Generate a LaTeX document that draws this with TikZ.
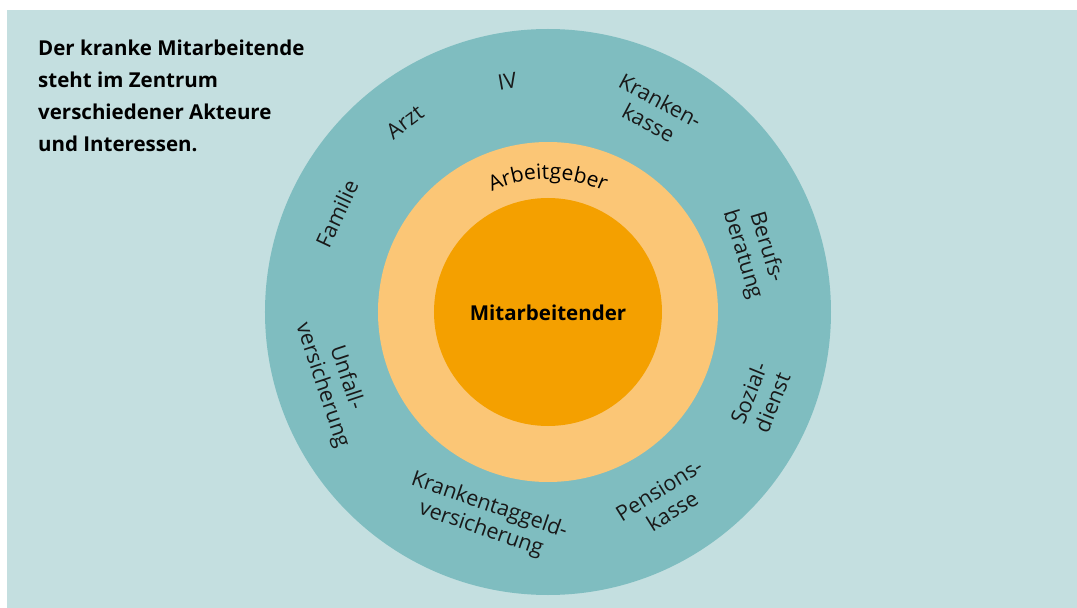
\documentclass[tikz,border=0pt]{standalone}
\usepackage{fontspec}
\setmainfont{Open Sans}
\usetikzlibrary{decorations.text}

\definecolor{paper}{HTML}{C4DFE0}
\definecolor{ringblue}{HTML}{7FBDC0}
\definecolor{ringsand}{HTML}{FBC676}
\definecolor{coreorange}{HTML}{F4A000}

\begin{document}
\begin{tikzpicture}[
            x=1pt, y=1pt,
            disc/.style={circle, inner sep=0pt, outer sep=0pt},
            actor/.style={font=\fontsize{21.5}{25}\selectfont, align=center,
                          inner sep=0pt, text=black!90},
            heading/.style={font=\bfseries\fontsize{20.5}{32}\selectfont,
                            align=left, inner sep=0pt, anchor=north west}]

            %% ── Background ────────────────────────────────────────────────
            \fill[white] (-548,312) rectangle (529,-296);
            \fill[paper] (-541,302) rectangle (529,-296);
            \useasboundingbox (-548,312) rectangle (529,-296);

            %% ── Rings ─────────────────────────────────────────────────────
            \node[disc, fill=ringblue,   minimum size=566pt] (outer)  at (0,0) {};
            \node[disc, fill=ringsand,   minimum size=340pt] (middle) at (0,0) {};
            \node[disc, fill=coreorange, minimum size=228pt] (core)   at (0,0) {};

            \node[font=\bfseries\fontsize{20.5}{24}\selectfont, inner sep=0pt]
                (worker) at (0,-1) {Mitarbeitender};

            \path[decorate, decoration={text along path, text align=center,
                  text={|\fontsize{21}{24}\selectfont|Arbeitgeber}}]
                (-133,0) arc[start angle=180, end angle=0, radius=133];

            %% ── Actors on the outer ring ──────────────────────────────────
            \node[actor, rotate=10]   (iv)      at (100:234)   {IV};
            \node[actor, rotate=37]   (arzt)    at (127:238)   {Arzt};
            \node[actor, rotate=65]   (familie) at (155:233)   {Familie};
            \node[actor, rotate=-28]  (kasse)   at (62:227)    {Kranken-\\kasse};
            \node[actor, rotate=-73]  (beruf)   at (16.5:215)  {Berufs-\\beratung};
            \node[actor, rotate=68]   (sozial)  at (-22:229)   {Sozial-\\dienst};
            \node[actor, rotate=32]   (pension) at (-58:222)   {Pensions-\\kasse};
            \node[actor, rotate=-19]  (taggeld) at (-107:215)  {Krankentaggeld-\\versicherung};
            \node[actor, rotate=-71.5] (unfall) at (-162:225)  {Unfall-\\versicherung};

            %% ── Heading ───────────────────────────────────────────────────
            \node[heading] (title) at (-510,272)
                {Der kranke Mitarbeitende\\steht im Zentrum\\verschiedener Akteure\\und Interessen.};

        \end{tikzpicture}
\end{document}
